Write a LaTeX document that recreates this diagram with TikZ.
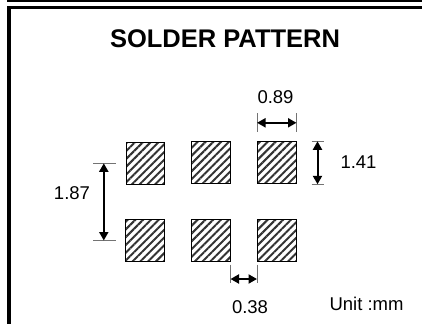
\documentclass[tikz,border=0pt]{standalone}
\usepackage{fontspec}
\setmainfont{Liberation Sans}
\usetikzlibrary{arrows.meta,patterns.meta,calc}
\tikzset{
  pad/.style={draw=black, line width=1pt, minimum width=38.5pt, minimum height=42pt, inner sep=0pt,
    pattern={Lines[angle=45,distance=5.5pt,line width=2pt]}, pattern color=black!80},
  ext/.style={draw=black!55, line width=0.9pt},
  dim/.style={line width=2pt, {Triangle[length=8.5pt,width=9pt]}-{Triangle[length=8.5pt,width=9pt]}},
  lbl/.style={font=\fontsize{18.5}{18.5}\selectfont, inner sep=0pt},
  frame/.style={line width=3.2pt}
}
\begin{document}
\begin{tikzpicture}[x=1pt,y=-1pt]
\useasboundingbox (0,0) rectangle (422,324);
% frame
\draw[line width=1.5pt] (7,0.75) -- (422,0.75);
\draw[frame] (422,7.5) -- (9,7.5) -- (9,324);
% title
\node[font=\bfseries\fontsize{25.5}{25.5}\selectfont, inner sep=0pt] (title) at (225,39) {SOLDER PATTERN};
% pads
\node[pad, anchor=north west] (p11) at (125.3,141.3) {};
\node[pad, anchor=north west] (p12) at (191,141.3) {};
\node[pad, anchor=north west] (p13) at (257,141.3) {};
\node[pad, anchor=north west] (p21) at (125.3,219) {};
\node[pad, anchor=north west] (p22) at (191,219) {};
\node[pad, anchor=north west] (p23) at (257,219) {};
% 0.89
\coordinate (a1) at ($(p13.north west)+(0,-9.5)$);
\coordinate (a2) at ($(p13.north east)+(0,-9.5)$);
\draw[ext] (a1) -- ++(0,-19);
\draw[ext] (a2) -- ++(0,-19);
\coordinate (a1m) at ($(a1)+(0,-9)$);
\coordinate (a2m) at ($(a2)+(0,-9)$);
\draw[dim] (a1m) -- (a2m);
\node[lbl] (t089) at (275.5,97) {0.89};
% 1.41
\coordinate (b1) at ($(p13.north east)+(15,0)$);
\coordinate (b2) at ($(p13.south east)+(15,0)$);
\draw[ext] (b1) -- ++(12,0);
\draw[ext] (b2) -- ++(12,0);
\coordinate (b1m) at ($(b1)+(6,0)$);
\coordinate (b2m) at ($(b2)+(6,0)$);
\draw[dim] (b1m) -- (b2m);
\node[lbl] (t141) at (358.5,162) {1.41};
% 1.87
\coordinate (c1) at ($(p11.west)+(-9.5,0)$);
\coordinate (c2) at ($(p21.west)+(-9.5,0)$);
\draw[ext] (c1) -- ++(-23,0);
\draw[ext] (c2) -- ++(-23,0);
\coordinate (c1m) at ($(c1)+(-12,0)$);
\coordinate (c2m) at ($(c2)+(-12,0)$);
\draw[dim] (c1m) -- (c2m);
\node[lbl] (t187) at (72,193.3) {1.87};
% 0.38
\coordinate (d1) at ($(p22.south east)+(0,2.5)$);
\coordinate (d2) at ($(p23.south west)+(0,2.5)$);
\draw[ext] (d1) -- ++(0,18);
\draw[ext] (d2) -- ++(0,18);
\coordinate (d1m) at ($(d1)+(0,14.5)$);
\coordinate (d2m) at ($(d2)+(0,14.5)$);
\draw[dim] (d1m) -- (d2m);
\node[lbl] (t038) at (250,306.7) {0.38};
% unit
\node[lbl] (unit) at (366.5,304.3) {Unit :mm};
\end{tikzpicture}
\end{document}
